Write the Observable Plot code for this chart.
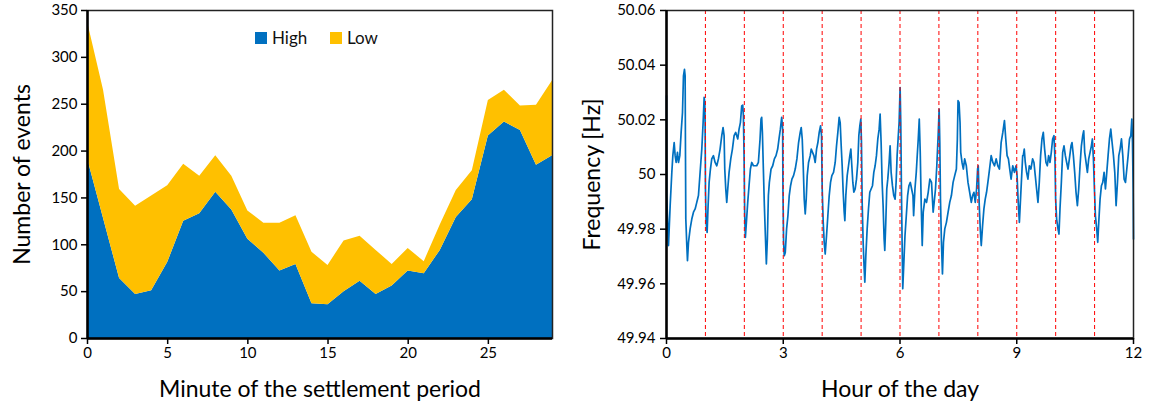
<!DOCTYPE html>
<html>
<head>
<meta charset="utf-8">
<script src="https://cdn.jsdelivr.net/npm/d3@7"></script>
<script src="https://cdn.jsdelivr.net/npm/@observablehq/plot@0.6"></script>
<style>
  body { margin: 0; background: #fff; font-family: Lato, "Open Sans", sans-serif; }
  #wrap { position: relative; width: 1151px; height: 409px; }
  #left, #right { position: absolute; top: 0; }
  #left { left: 0; }
  #right { left: 575px; }
  .legend { position: absolute; top: 27px; font-size: 17px; color: #111; display: flex; align-items: center; }
  .legend span.sw { display: inline-block; width: 12px; height: 12px; margin-right: 5px; }
</style>
</head>
<body>
<div id="wrap">
  <div id="left"></div>
  <div id="right"></div>
  <div class="legend" style="left:255px"><span class="sw" style="background:#0070c0"></span>High</div>
  <div class="legend" style="left:330px"><span class="sw" style="background:#ffc000"></span>Low</div>
</div>
<script>
// Events per minute of the half-hour settlement period
const minutes = [0,1,2,3,4,5,6,7,8,9,10,11,12,13,14,15,16,17,18,19,20,21,22,23,24,25,26,27,28,29];
const highEvents = [192,128,64,47,51,81,125,133,156,137,106,91,72,79,37,36,50,61,47,56,72,69,94,129,148,216,231,222,185,195];
const lowEvents  = [146,137,95,94,101,82,61,40,39,36,30,32,51,52,55,42,54,48,47,23,24,13,27,29,31,38,34,26,64,80];
const eventTypes = ["High", "Low"];
const minuteTicks = [0,5,10,15,20,25];
const countTicks = [0,50,100,150,200,250,300,350];

// Grid frequency over the first twelve hours of the day
const hours = [
  0,0.005,0.051,0.094,0.137,0.163,0.197,0.222,0.248,0.282,0.308,0.342,0.376,0.411,0.436,0.462,0.479,0.488,0.496,0.522,
  0.539,0.565,0.607,0.65,0.693,0.736,0.778,0.821,0.864,0.907,0.941,0.967,0.984,0.992,1.001,1.018,1.044,1.069,1.095,1.129,
  1.163,1.206,1.249,1.292,1.334,1.377,1.42,1.454,1.48,1.497,1.523,1.548,1.574,1.608,1.651,1.694,1.737,1.779,1.831,1.865,
  1.899,1.933,1.959,1.976,1.993,2.01,2.027,2.053,2.087,2.121,2.156,2.19,2.233,2.275,2.318,2.361,2.404,2.429,2.446,2.464,
  2.489,2.515,2.541,2.566,2.592,2.618,2.643,2.686,2.729,2.772,2.814,2.857,2.891,2.926,2.96,2.985,2.992,3.009,3.026,3.052,
  3.086,3.12,3.154,3.188,3.223,3.265,3.308,3.351,3.394,3.436,3.462,3.488,3.513,3.539,3.565,3.59,3.616,3.65,3.693,3.719,
  3.753,3.787,3.821,3.856,3.89,3.924,3.958,3.984,4.001,4.027,4.052,4.078,4.112,4.146,4.181,4.215,4.249,4.292,4.335,4.369,
  4.403,4.437,4.463,4.489,4.514,4.54,4.566,4.583,4.608,4.643,4.677,4.711,4.737,4.762,4.788,4.814,4.848,4.882,4.916,4.942,
  4.968,4.993,5.01,5.028,5.053,5.079,5.096,5.122,5.156,5.19,5.224,5.258,5.293,5.327,5.361,5.395,5.43,5.464,5.489,5.515,
  5.541,5.566,5.592,5.609,5.635,5.66,5.686,5.72,5.746,5.772,5.806,5.84,5.874,5.9,5.926,5.951,5.977,6.003,6.02,6.037,
  6.054,6.071,6.128,6.162,6.196,6.23,6.265,6.299,6.333,6.35,6.384,6.418,6.443,6.469,6.495,6.52,6.546,6.571,6.597,6.639,
  6.682,6.725,6.767,6.81,6.852,6.878,6.912,6.946,6.98,7.006,7.023,7.04,7.065,7.091,7.117,7.151,7.193,7.236,7.278,7.321,
  7.364,7.406,7.449,7.474,7.491,7.517,7.543,7.56,7.594,7.628,7.662,7.704,7.747,7.79,7.832,7.866,7.9,7.934,7.968,7.994,
  8.011,8.037,8.062,8.088,8.122,8.156,8.19,8.224,8.258,8.301,8.343,8.386,8.429,8.471,8.514,8.556,8.599,8.642,8.684,8.718,
  8.752,8.786,8.82,8.855,8.897,8.94,8.982,9.008,9.034,9.068,9.093,9.127,9.153,9.167,9.193,9.219,9.253,9.287,9.322,9.364,
  9.407,9.442,9.476,9.51,9.545,9.579,9.613,9.648,9.682,9.716,9.751,9.785,9.819,9.854,9.888,9.922,9.957,9.982,9.999,10.025,
  10.06,10.085,10.111,10.146,10.18,10.214,10.249,10.283,10.317,10.352,10.395,10.42,10.455,10.489,10.523,10.558,10.592,10.626,10.661,10.695,
  10.721,10.746,10.781,10.815,10.849,10.884,10.918,10.944,10.97,10.996,11.021,11.055,11.081,11.107,11.141,11.176,11.21,11.244,11.279,11.313,
  11.347,11.382,11.416,11.45,11.485,11.519,11.553,11.588,11.622,11.656,11.691,11.725,11.759,11.794,11.828,11.862,11.897,11.931,11.957,11.974,
  11.991,12
];
const frequencyHz = [
  50.0288,49.9923,49.974,49.9886,50.0008,50.0069,50.0117,50.0069,50.0044,50.0081,50.0044,50.0069,50.0154,50.0227,50.0361,50.0385,50.0361,50.0069,49.9837,49.974,
  49.9685,49.9752,49.9801,49.9837,49.9862,49.9874,49.9898,49.9923,50.0008,50.0093,50.019,50.0282,50.0264,50.019,49.9947,49.9825,49.9788,49.9886,49.9971,50.002,
  50.0057,50.0069,50.0044,50.0032,50.0057,50.0093,50.0142,50.0172,50.0142,50.002,49.9947,49.9898,49.9947,50.0008,50.0057,50.0093,50.0142,50.0154,50.013,50.0166,
  50.019,50.0251,50.0254,50.0215,50.0069,49.9849,49.977,49.9825,49.9898,49.9959,50.002,50.0044,50.0032,50.0032,50.0032,50.0044,50.013,50.0203,50.0209,50.0154,
  50.002,49.9886,49.9776,49.9673,49.9764,49.9923,49.9971,50.002,50.0032,50.0057,50.0069,50.0093,50.013,50.0166,50.0209,50.0166,49.9947,49.9752,49.9703,49.9715,
  49.9801,49.9849,49.9923,49.9959,49.9983,49.9996,50.002,50.0057,50.0117,50.0154,50.0172,50.013,50.0032,49.991,49.9856,49.991,49.9996,50.0044,50.0069,50.0093,
  50.0081,50.0069,50.0044,50.0093,50.0117,50.0154,50.0178,50.0142,49.9947,49.9825,49.9752,49.9709,49.9776,49.9849,49.9923,49.9971,49.9996,50.0008,50.0044,50.0105,
  50.0154,50.0209,50.019,50.0105,50.0032,49.9935,49.9862,49.9831,49.9923,49.9996,50.0032,50.0069,50.0093,50.0032,49.9971,49.9935,49.9947,49.9983,50.0044,50.0142,
  50.0178,50.0203,50.0117,49.9898,49.9752,49.9655,49.9606,49.9703,49.9801,49.9874,49.9935,49.9947,49.9959,50.0008,50.0032,50.0069,50.013,50.0166,50.0221,50.0117,
  49.9971,49.9886,49.9764,49.9722,49.9825,49.9947,49.9983,50.0044,50.0105,50.0008,49.9959,49.9923,49.991,49.9971,50.0069,50.013,50.019,50.0318,50.019,49.9947,
  49.9752,49.9582,49.9776,49.9849,49.9923,49.9959,49.9971,49.9947,49.9923,49.9849,49.9947,50.0008,50.0069,50.013,50.0203,50.0081,49.9886,49.974,49.9862,49.991,
  49.9898,49.9935,49.9983,49.9971,49.9862,49.9898,49.9947,50.0032,50.0142,50.0239,50.0117,49.991,49.9752,49.9636,49.9752,49.9801,49.9825,49.9862,49.9898,49.9923,
  49.9971,49.9996,50.002,50.013,50.027,50.0264,50.019,50.0081,50.0044,50.002,50.0057,50.0032,49.9971,49.9935,49.9898,49.9923,49.9935,49.9898,49.9947,50.002,
  50.0032,49.9886,49.9801,49.974,49.9813,49.9874,49.991,49.9935,49.9971,50.002,50.0069,50.0044,50.0032,50.0057,50.0032,50.002,50.0117,50.0154,50.0197,50.013,
  50.0069,50.0057,50.002,49.9983,50.0032,50.0008,50.0032,49.9996,49.991,49.9825,49.9898,49.9996,50.0069,50.0069,50.0093,50.0044,50.0008,49.9983,50.0032,50.002,
  50.0057,50.0044,49.9996,49.9947,49.9898,49.9971,50.0069,50.013,50.0154,50.0093,50.0044,50.0032,50.0069,50.0044,50.0081,50.013,50.0142,50.0057,49.991,49.9837,
  49.9801,49.9782,49.9874,49.9971,50.0081,50.0105,50.0069,50.0044,50.002,50.0057,50.0105,50.0117,50.0069,50.0008,49.9935,49.9886,49.9947,50.0032,50.0105,50.0142,
  50.016,50.0081,50.0044,50.0008,50.0057,50.0081,50.0105,50.013,50.0057,49.9947,49.9849,49.9801,49.9752,49.9825,49.991,49.9959,49.9971,50.0008,49.9947,50.0008,
  50.0069,50.013,50.0166,50.0117,50.0069,50.0008,49.9886,49.9971,50.0069,50.0093,50.013,50.0069,49.9983,49.9971,50.002,50.0069,50.013,50.0142,50.0203,50.0117,
  49.9947,49.9764
];
const hourTicks = [0,3,6,9,12];
const hourMarks = [1,2,3,4,5,6,7,8,9,10,11];
const freqTicks = [49.94,49.96,49.98,50,50.02,50.04,50.06];

const FONT = "Lato, 'Open Sans', sans-serif";

// Axis titles sit outside the frame, centred on it
const xTitle = (t) => Plot.text([t], {frameAnchor: "bottom", textAnchor: "middle", lineAnchor: "middle", dy: 51, fontSize: 23, fill: "#000"});
const yTitle = (t, dx) => Plot.text([t], {frameAnchor: "left", textAnchor: "middle", lineAnchor: "middle", rotate: -90, dx, fontSize: 23, fill: "#000"});

// Stacked area: High at the bottom, Low on top
const events = [];
minutes.forEach((m, i) => {
  events.push({minute: m, type: "High", count: highEvents[i]});
  events.push({minute: m, type: "Low", count: lowEvents[i]});
});

const left = Plot.plot({
  width: 575, height: 409,
  marginLeft: 87, marginRight: 23, marginTop: 10, marginBottom: 71,
  style: {fontFamily: FONT, fontSize: "15px", color: "#000", background: "transparent"},
  x: {domain: [0, 29]},
  y: {domain: [0, 350]},
  color: {domain: eventTypes, range: ["#0070c0", "#ffc000"]},
  marks: [
    Plot.areaY(events, {x: "minute", y: "count", fill: "type", order: eventTypes}),
    Plot.frame({stroke: "#222", strokeWidth: 1.5}),
    Plot.ruleY([0], {stroke: "#000", strokeWidth: 2.5}),
    Plot.ruleX([0], {stroke: "#000", strokeWidth: 2.5}),
    Plot.axisY({ticks: countTicks, tickSize: 6, tickPadding: 4, strokeWidth: 1.5, label: null, fontSize: 15}),
    Plot.axisX({ticks: minuteTicks, tickSize: 6, tickPadding: 3, strokeWidth: 1.5, label: null, fontSize: 15}),
    xTitle("Minute of the settlement period"),
    yTitle("Number of events", -65)
  ]
});
document.getElementById("left").appendChild(left);

const series = hours.map((h, i) => ({hour: h, hz: frequencyHz[i]}));

const right = Plot.plot({
  width: 576, height: 409,
  marginLeft: 91, marginRight: 18, marginTop: 10, marginBottom: 71,
  style: {fontFamily: FONT, fontSize: "15px", color: "#000", background: "transparent"},
  x: {domain: [0, 12]},
  y: {domain: [49.94, 50.06]},
  marks: [
    Plot.line(series, {x: "hour", y: "hz", stroke: "#0070c0", strokeWidth: 1.7}),
    Plot.ruleX(hourMarks, {stroke: "#ff0000", strokeWidth: 1, strokeDasharray: "4,3"}),
    Plot.frame({stroke: "#222", strokeWidth: 1.5}),
    Plot.ruleY([49.94], {stroke: "#000", strokeWidth: 2.5}),
    Plot.ruleX([0], {stroke: "#000", strokeWidth: 2.5}),
    Plot.axisY({ticks: freqTicks, tickFormat: d => String(+d.toFixed(2)), tickSize: 6, tickPadding: 5, strokeWidth: 1.5, label: null, fontSize: 15}),
    Plot.axisX({ticks: hourTicks, tickSize: 6, tickPadding: 3, strokeWidth: 1.5, label: null, fontSize: 15}),
    xTitle("Hour of the day"),
    yTitle("Frequency [Hz]", -74)
  ]
});
document.getElementById("right").appendChild(right);
</script>
</body>
</html>
